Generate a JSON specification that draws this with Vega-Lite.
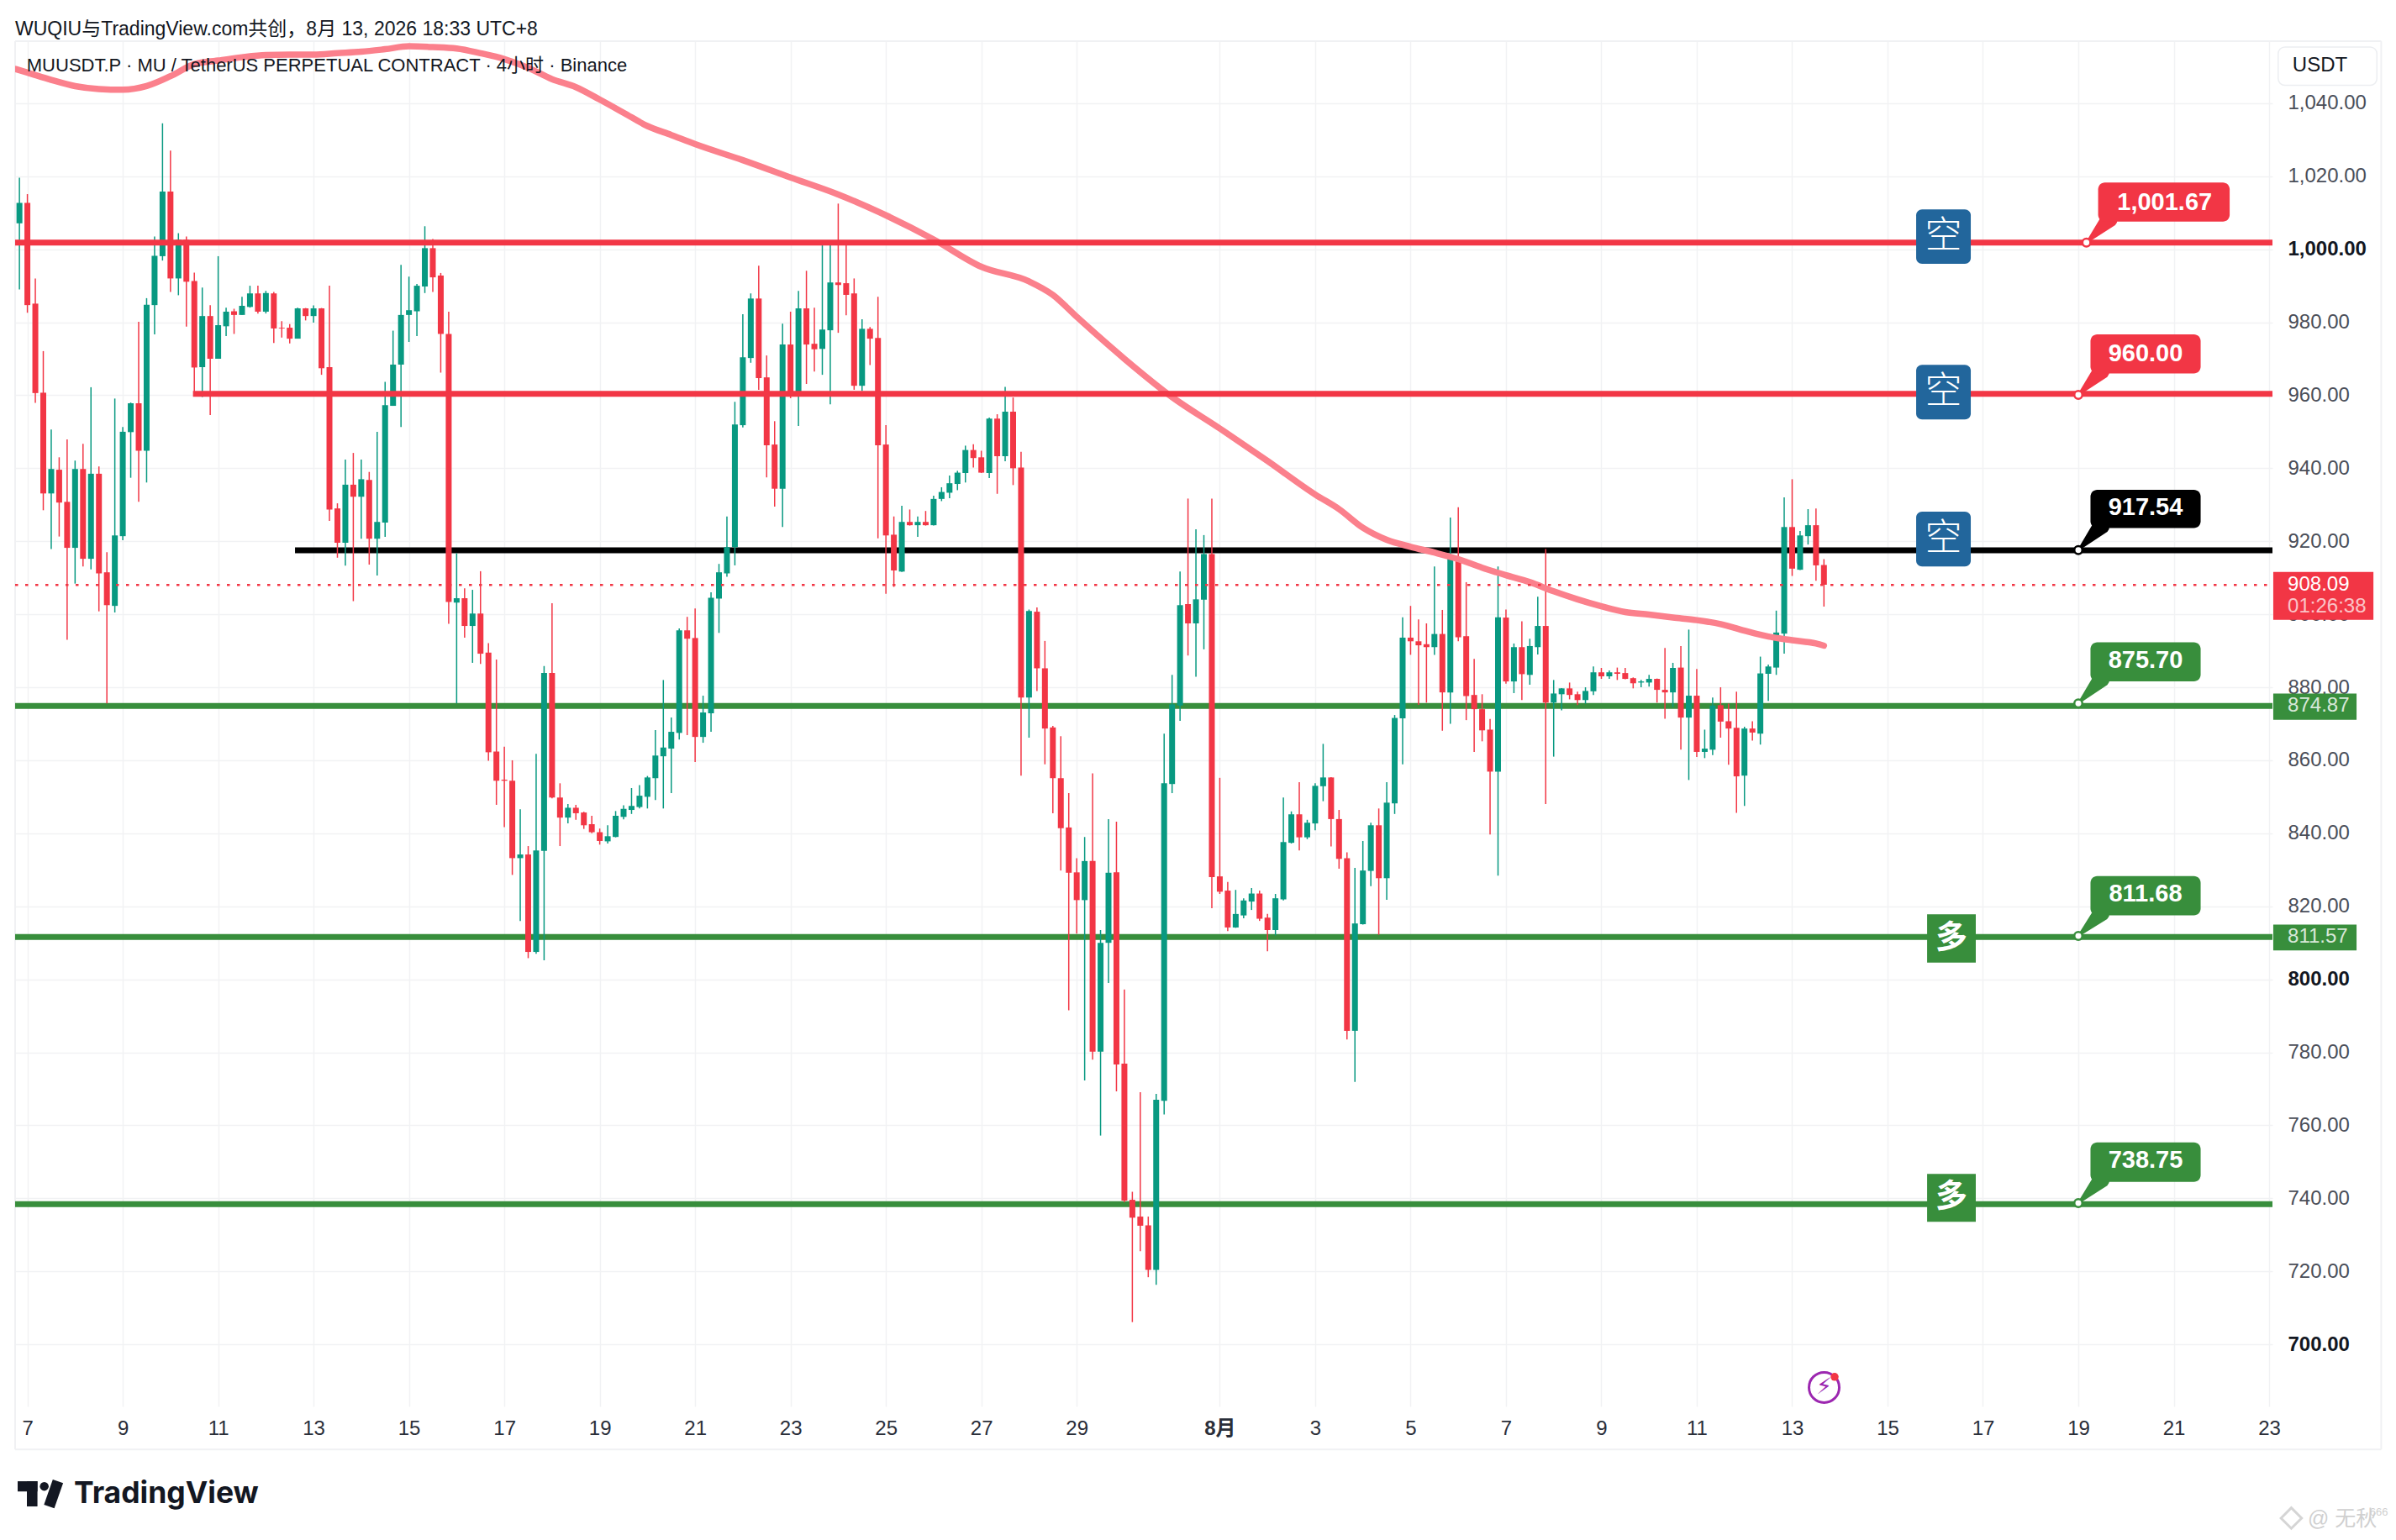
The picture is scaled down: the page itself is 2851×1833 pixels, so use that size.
{"$schema":"https://vega.github.io/schema/vega-lite/v6.json","autosize":{"type":"none"},"padding":{"left":18,"top":49,"right":147,"bottom":159},"width":2686,"height":1625,"background":"#ffffff","view":{"stroke":null},"config":{"font":"Liberation Sans, Noto Sans CJK SC"},
"title":{"text":"WUQIU与TradingView.com共创，8月 13, 2026 18:33 UTC+8","anchor":"start","frame":"group","fontSize":23,"fontWeight":"normal","color":"#131722","offset":1,"font":"Liberation Sans, Noto Sans CJK SC"},
"datasets":{
"candles":[
{"t":"2026-07-06T20:00Z","o":1007.1,"h":1019.6,"l":989,"c":1012.7},{"t":"2026-07-07T00:00Z","o":1012.7,"h":1015.1,"l":982.6,"c":984.7},{"t":"2026-07-07T04:00Z","o":985.1,"h":992,"l":957.9,"c":960.6},{"t":"2026-07-07T08:00Z","o":960.7,"h":972.1,"l":928.5,"c":933.1},{"t":"2026-07-07T12:00Z","o":933.1,"h":950.6,"l":917.9,"c":939.8},{"t":"2026-07-07T16:00Z","o":939.6,"h":943,"l":921.3,"c":930.6},{"t":"2026-07-07T20:00Z","o":930.8,"h":947.9,"l":893,"c":918.2},
{"t":"2026-07-08T00:00Z","o":918.2,"h":942.1,"l":908.4,"c":939.8},{"t":"2026-07-08T04:00Z","o":939.8,"h":946.7,"l":913.1,"c":915.2},{"t":"2026-07-08T08:00Z","o":915.2,"h":962.2,"l":912.3,"c":938.5},{"t":"2026-07-08T12:00Z","o":938.5,"h":940.5,"l":900.8,"c":911.2},{"t":"2026-07-08T16:00Z","o":911.5,"h":917,"l":875.6,"c":902.5},{"t":"2026-07-08T20:00Z","o":902.3,"h":959.1,"l":900.5,"c":921.6},
{"t":"2026-07-09T00:00Z","o":921.4,"h":951.3,"l":920.3,"c":950},{"t":"2026-07-09T04:00Z","o":949.9,"h":958,"l":937.4,"c":957.8},{"t":"2026-07-09T08:00Z","o":957.8,"h":980.1,"l":930.8,"c":944.8},{"t":"2026-07-09T12:00Z","o":944.8,"h":986.6,"l":936.1,"c":984.8},{"t":"2026-07-09T16:00Z","o":984.7,"h":1003.5,"l":976.7,"c":998.2},{"t":"2026-07-09T20:00Z","o":998.1,"h":1034.5,"l":996.9,"c":1015.8},
{"t":"2026-07-10T00:00Z","o":1015.8,"h":1027,"l":988.3,"c":992},{"t":"2026-07-10T04:00Z","o":992,"h":1004.4,"l":987.4,"c":1002.6},{"t":"2026-07-10T08:00Z","o":1002.6,"h":1003.5,"l":978.8,"c":991.1},{"t":"2026-07-10T12:00Z","o":991.3,"h":993.6,"l":960.6,"c":967.6},{"t":"2026-07-10T16:00Z","o":967.7,"h":989.5,"l":959.5,"c":981.7},{"t":"2026-07-10T20:00Z","o":981.7,"h":984.7,"l":954.6,"c":970},
{"t":"2026-07-11T00:00Z","o":970,"h":998.1,"l":970,"c":979.2},{"t":"2026-07-11T04:00Z","o":978.9,"h":984,"l":976.2,"c":982.9},{"t":"2026-07-11T08:00Z","o":983,"h":983.7,"l":976.8,"c":982},{"t":"2026-07-11T12:00Z","o":982,"h":987,"l":982,"c":984.5},{"t":"2026-07-11T16:00Z","o":984.2,"h":990,"l":984,"c":987.9},{"t":"2026-07-11T20:00Z","o":987.9,"h":990,"l":982.4,"c":982.9},
{"t":"2026-07-12T00:00Z","o":982.9,"h":988.6,"l":982.4,"c":988},{"t":"2026-07-12T04:00Z","o":987.9,"h":988.3,"l":974.3,"c":978.3},{"t":"2026-07-12T08:00Z","o":978.5,"h":980.3,"l":975.8,"c":978.3},{"t":"2026-07-12T12:00Z","o":978.5,"h":979.5,"l":974.2,"c":975.5},{"t":"2026-07-12T16:00Z","o":975.5,"h":984,"l":975.5,"c":983.8},{"t":"2026-07-12T20:00Z","o":983.8,"h":983.9,"l":980.5,"c":981.7},
{"t":"2026-07-13T00:00Z","o":981.7,"h":984.6,"l":979.9,"c":983.8},{"t":"2026-07-13T04:00Z","o":983.8,"h":983.9,"l":965.6,"c":967.4},{"t":"2026-07-13T08:00Z","o":967.7,"h":990,"l":925.6,"c":928.7},{"t":"2026-07-13T12:00Z","o":929,"h":930.4,"l":915.5,"c":919.6},{"t":"2026-07-13T16:00Z","o":919.6,"h":942.4,"l":913.3,"c":935.5},{"t":"2026-07-13T20:00Z","o":935.5,"h":944.2,"l":903.6,"c":932.2},
{"t":"2026-07-14T00:00Z","o":932.2,"h":942.4,"l":920.7,"c":937},{"t":"2026-07-14T04:00Z","o":936.8,"h":939,"l":913.6,"c":920.7},{"t":"2026-07-14T08:00Z","o":920.7,"h":950,"l":910.6,"c":925.3},{"t":"2026-07-14T12:00Z","o":925.1,"h":963.7,"l":921.2,"c":957.3},{"t":"2026-07-14T16:00Z","o":957.1,"h":977.7,"l":957.1,"c":968.4},{"t":"2026-07-14T20:00Z","o":968.4,"h":995.7,"l":951.3,"c":982},
{"t":"2026-07-15T00:00Z","o":982,"h":992.5,"l":974.6,"c":983.3},{"t":"2026-07-15T04:00Z","o":983,"h":990.5,"l":976.2,"c":990},{"t":"2026-07-15T08:00Z","o":989.8,"h":1006.3,"l":988,"c":1000.3},{"t":"2026-07-15T12:00Z","o":1000.3,"h":1002.8,"l":988.3,"c":992.3},{"t":"2026-07-15T16:00Z","o":992.8,"h":993.5,"l":966.2,"c":976.8},{"t":"2026-07-15T20:00Z","o":976.8,"h":982.9,"l":897.4,"c":903.4},
{"t":"2026-07-16T00:00Z","o":903.2,"h":916.7,"l":875.6,"c":904.4},{"t":"2026-07-16T04:00Z","o":904.4,"h":907.1,"l":893.6,"c":896.8},{"t":"2026-07-16T08:00Z","o":896.8,"h":906.7,"l":886.7,"c":900.2},{"t":"2026-07-16T12:00Z","o":900.2,"h":911.8,"l":886.4,"c":889.2},{"t":"2026-07-16T16:00Z","o":889.5,"h":892.1,"l":859.9,"c":862.2},{"t":"2026-07-16T20:00Z","o":862.4,"h":887.6,"l":847.8,"c":854.4},
{"t":"2026-07-17T00:00Z","o":854.7,"h":863.7,"l":841.7,"c":854.4},{"t":"2026-07-17T04:00Z","o":854.4,"h":860,"l":828.6,"c":833.2},{"t":"2026-07-17T08:00Z","o":833.2,"h":846.6,"l":816,"c":834.2},{"t":"2026-07-17T12:00Z","o":834.2,"h":836.5,"l":805.8,"c":807.5},{"t":"2026-07-17T16:00Z","o":807.5,"h":861.8,"l":807,"c":835.3},{"t":"2026-07-17T20:00Z","o":835.2,"h":885.8,"l":805.2,"c":883.9},
{"t":"2026-07-18T00:00Z","o":883.9,"h":903,"l":849.6,"c":849.8},{"t":"2026-07-18T04:00Z","o":849.8,"h":853.7,"l":836.5,"c":844.3},{"t":"2026-07-18T08:00Z","o":844.3,"h":848,"l":842.7,"c":847},{"t":"2026-07-18T12:00Z","o":847,"h":847.8,"l":843.7,"c":845.5},{"t":"2026-07-18T16:00Z","o":845.7,"h":845.9,"l":841.2,"c":842.2},{"t":"2026-07-18T20:00Z","o":842.5,"h":844.8,"l":840,"c":840.3},
{"t":"2026-07-19T00:00Z","o":840.3,"h":841.3,"l":836.9,"c":837.9},{"t":"2026-07-19T04:00Z","o":837.8,"h":842.2,"l":837.2,"c":839.2},{"t":"2026-07-19T08:00Z","o":839,"h":846.1,"l":838.9,"c":844.8},{"t":"2026-07-19T12:00Z","o":844.5,"h":847.7,"l":843.8,"c":846.7},{"t":"2026-07-19T16:00Z","o":846.4,"h":852.4,"l":845.3,"c":847.5},{"t":"2026-07-19T20:00Z","o":847.2,"h":853.2,"l":846.8,"c":850.3},
{"t":"2026-07-20T00:00Z","o":850,"h":855.7,"l":846.8,"c":855.3},{"t":"2026-07-20T04:00Z","o":855.1,"h":868.3,"l":849.1,"c":861.3},{"t":"2026-07-20T08:00Z","o":861.1,"h":882,"l":846.8,"c":863.5},{"t":"2026-07-20T12:00Z","o":863.2,"h":871.7,"l":851,"c":867.8},{"t":"2026-07-20T16:00Z","o":867.5,"h":896.1,"l":865.7,"c":895.6},{"t":"2026-07-20T20:00Z","o":895.6,"h":899.3,"l":866.9,"c":893.3},
{"t":"2026-07-21T00:00Z","o":893.5,"h":901.6,"l":859.5,"c":866.4},{"t":"2026-07-21T04:00Z","o":866.4,"h":877.7,"l":864.8,"c":873.1},{"t":"2026-07-21T08:00Z","o":872.9,"h":906,"l":867.8,"c":904.5},{"t":"2026-07-21T12:00Z","o":904.3,"h":913.8,"l":894.9,"c":911.5},{"t":"2026-07-21T16:00Z","o":911.2,"h":926.8,"l":910.3,"c":918.4},{"t":"2026-07-21T20:00Z","o":918.4,"h":958.2,"l":913.4,"c":952},
{"t":"2026-07-22T00:00Z","o":951.8,"h":982.2,"l":951.2,"c":970.4},{"t":"2026-07-22T04:00Z","o":970.2,"h":987.9,"l":968.9,"c":986.5},{"t":"2026-07-22T08:00Z","o":986.5,"h":995.5,"l":961.5,"c":964.7},{"t":"2026-07-22T12:00Z","o":964.9,"h":970.9,"l":937.5,"c":946.3},{"t":"2026-07-22T16:00Z","o":946.5,"h":952.9,"l":929.5,"c":934.4},{"t":"2026-07-22T20:00Z","o":934.4,"h":979.6,"l":923.9,"c":973.9},
{"t":"2026-07-23T00:00Z","o":973.9,"h":982.9,"l":959.2,"c":959.8},{"t":"2026-07-23T04:00Z","o":961,"h":988.6,"l":951.6,"c":983.8},{"t":"2026-07-23T08:00Z","o":983.8,"h":994.1,"l":963.1,"c":973.9},{"t":"2026-07-23T12:00Z","o":974.1,"h":984,"l":966.5,"c":972.6},{"t":"2026-07-23T16:00Z","o":972.7,"h":1002.3,"l":965.6,"c":978},{"t":"2026-07-23T20:00Z","o":977.8,"h":1002,"l":957.5,"c":990.9},
{"t":"2026-07-24T00:00Z","o":990.9,"h":1012.5,"l":977.1,"c":990.2},{"t":"2026-07-24T04:00Z","o":990.7,"h":1001.5,"l":981.9,"c":987.5},{"t":"2026-07-24T08:00Z","o":987.9,"h":992,"l":961.5,"c":962.6},{"t":"2026-07-24T12:00Z","o":962.6,"h":980.8,"l":961.2,"c":978.2},{"t":"2026-07-24T16:00Z","o":978.2,"h":978.7,"l":968.3,"c":975.5},{"t":"2026-07-24T20:00Z","o":975.7,"h":987,"l":920.8,"c":946.3},
{"t":"2026-07-25T00:00Z","o":946.5,"h":951.8,"l":905.6,"c":921.6},{"t":"2026-07-25T04:00Z","o":921.8,"h":926.8,"l":907.5,"c":912},{"t":"2026-07-25T08:00Z","o":911.7,"h":929.7,"l":911.6,"c":925.3},{"t":"2026-07-25T12:00Z","o":925.3,"h":928.7,"l":924.3,"c":924.4},{"t":"2026-07-25T16:00Z","o":924.4,"h":926.8,"l":921.2,"c":925.3},{"t":"2026-07-25T20:00Z","o":925.3,"h":928.3,"l":924.3,"c":924.4},
{"t":"2026-07-26T00:00Z","o":924.4,"h":932.5,"l":924.3,"c":931.6},{"t":"2026-07-26T04:00Z","o":931.6,"h":934.8,"l":931,"c":933.5},{"t":"2026-07-26T08:00Z","o":933.3,"h":938,"l":931.8,"c":935.9},{"t":"2026-07-26T12:00Z","o":935.7,"h":939.3,"l":934,"c":938.8},{"t":"2026-07-26T16:00Z","o":938.7,"h":946.2,"l":936.1,"c":945},{"t":"2026-07-26T20:00Z","o":945,"h":946.6,"l":940.2,"c":942.8},
{"t":"2026-07-27T00:00Z","o":943,"h":944.8,"l":938.7,"c":938.8},{"t":"2026-07-27T04:00Z","o":938.7,"h":953.9,"l":937.3,"c":953.6},{"t":"2026-07-27T08:00Z","o":953.6,"h":954.8,"l":933,"c":943.3},{"t":"2026-07-27T12:00Z","o":943.3,"h":962.3,"l":941.9,"c":955.5},{"t":"2026-07-27T16:00Z","o":955.5,"h":959.4,"l":935.4,"c":940},{"t":"2026-07-27T20:00Z","o":940.2,"h":944.5,"l":855.8,"c":877.2},
{"t":"2026-07-28T00:00Z","o":877.2,"h":901.3,"l":866.2,"c":900.9},{"t":"2026-07-28T04:00Z","o":900.7,"h":901.9,"l":879,"c":885.2},{"t":"2026-07-28T08:00Z","o":885.2,"h":892.7,"l":858.9,"c":868.7},{"t":"2026-07-28T12:00Z","o":869,"h":869.4,"l":845.5,"c":855.1},{"t":"2026-07-28T16:00Z","o":855.1,"h":866.6,"l":829.8,"c":841.4},{"t":"2026-07-28T20:00Z","o":841.6,"h":851,"l":791.5,"c":829.2},
{"t":"2026-07-29T00:00Z","o":829.3,"h":833.2,"l":812.5,"c":821.7},{"t":"2026-07-29T04:00Z","o":821.7,"h":839,"l":772.3,"c":832.4},{"t":"2026-07-29T08:00Z","o":832.4,"h":856.4,"l":778,"c":780.2},{"t":"2026-07-29T12:00Z","o":780.2,"h":813.5,"l":757.2,"c":810},{"t":"2026-07-29T16:00Z","o":810,"h":843.9,"l":799,"c":829.2},{"t":"2026-07-29T20:00Z","o":829.3,"h":843.2,"l":769.3,"c":776.7},
{"t":"2026-07-30T00:00Z","o":776.9,"h":797.2,"l":738.9,"c":739.4},{"t":"2026-07-30T04:00Z","o":739.6,"h":741.8,"l":706.1,"c":734.7},{"t":"2026-07-30T08:00Z","o":735,"h":769.1,"l":725.5,"c":732.5},{"t":"2026-07-30T12:00Z","o":732.6,"h":735,"l":718.4,"c":720.4},{"t":"2026-07-30T16:00Z","o":720.4,"h":768.6,"l":716.3,"c":767},{"t":"2026-07-30T20:00Z","o":766.7,"h":867.3,"l":763,"c":853.7},
{"t":"2026-07-31T00:00Z","o":853.5,"h":883.4,"l":851,"c":875.3},{"t":"2026-07-31T04:00Z","o":875,"h":911.7,"l":870.8,"c":902.5},{"t":"2026-07-31T08:00Z","o":902.8,"h":931.7,"l":888.7,"c":897.5},{"t":"2026-07-31T12:00Z","o":897.5,"h":923.3,"l":882.9,"c":904.1},{"t":"2026-07-31T16:00Z","o":904,"h":921.7,"l":890.4,"c":916.5},{"t":"2026-07-31T20:00Z","o":916.5,"h":931.7,"l":819.5,"c":828},
{"t":"2026-08-01T00:00Z","o":828.2,"h":855.2,"l":823.4,"c":824},{"t":"2026-08-01T04:00Z","o":824.3,"h":826.7,"l":813.2,"c":814.2},{"t":"2026-08-01T08:00Z","o":814.2,"h":824.5,"l":814.1,"c":817.9},{"t":"2026-08-01T12:00Z","o":817.5,"h":822.2,"l":816.7,"c":821.6},{"t":"2026-08-01T16:00Z","o":821.3,"h":825,"l":819,"c":823.5},{"t":"2026-08-01T20:00Z","o":823.5,"h":824.3,"l":816,"c":816.6},
{"t":"2026-08-02T00:00Z","o":816.9,"h":817.9,"l":807.7,"c":813.5},{"t":"2026-08-02T04:00Z","o":813.5,"h":823.4,"l":812,"c":822.2},{"t":"2026-08-02T08:00Z","o":821.9,"h":849.8,"l":821.6,"c":837.6},{"t":"2026-08-02T12:00Z","o":837.4,"h":846,"l":837.2,"c":845.2},{"t":"2026-08-02T16:00Z","o":845.2,"h":854,"l":835.3,"c":838.9},{"t":"2026-08-02T20:00Z","o":838.9,"h":843.7,"l":838.4,"c":842.9},
{"t":"2026-08-03T00:00Z","o":842.7,"h":853.7,"l":840.8,"c":853},{"t":"2026-08-03T04:00Z","o":852.9,"h":864.5,"l":848.8,"c":855.3},{"t":"2026-08-03T08:00Z","o":855.3,"h":855.4,"l":836.4,"c":843.9},{"t":"2026-08-03T12:00Z","o":843.9,"h":846.4,"l":830.3,"c":833},{"t":"2026-08-03T16:00Z","o":833.2,"h":834.8,"l":783.5,"c":785.9},{"t":"2026-08-03T20:00Z","o":785.9,"h":830.5,"l":771.9,"c":815.3},
{"t":"2026-08-04T00:00Z","o":815.1,"h":837.9,"l":815,"c":829.8},{"t":"2026-08-04T04:00Z","o":829.7,"h":842.9,"l":825.5,"c":842.2},{"t":"2026-08-04T08:00Z","o":842.2,"h":846.8,"l":812.2,"c":827.7},{"t":"2026-08-04T12:00Z","o":827.7,"h":854,"l":821.8,"c":848.4},{"t":"2026-08-04T16:00Z","o":848.2,"h":872.4,"l":845.3,"c":871.6},{"t":"2026-08-04T20:00Z","o":871.5,"h":899.2,"l":858.9,"c":893.6},
{"t":"2026-08-05T00:00Z","o":893.6,"h":902.3,"l":888.9,"c":892.6},{"t":"2026-08-05T04:00Z","o":892.6,"h":898.6,"l":875.2,"c":891.5},{"t":"2026-08-05T08:00Z","o":891.8,"h":897.5,"l":875.8,"c":891},{"t":"2026-08-05T12:00Z","o":891,"h":913.1,"l":888.9,"c":894.6},{"t":"2026-08-05T16:00Z","o":894.6,"h":901.2,"l":868.1,"c":878.6},{"t":"2026-08-05T20:00Z","o":878.6,"h":926.5,"l":870,"c":915.2},
{"t":"2026-08-06T00:00Z","o":915.2,"h":929.3,"l":892.6,"c":893.7},{"t":"2026-08-06T04:00Z","o":894,"h":908.8,"l":871,"c":877.6},{"t":"2026-08-06T08:00Z","o":877.9,"h":887.8,"l":862.3,"c":874},{"t":"2026-08-06T12:00Z","o":874,"h":878.1,"l":865.2,"c":868.2},{"t":"2026-08-06T16:00Z","o":868.4,"h":871.3,"l":839.7,"c":856.9},{"t":"2026-08-06T20:00Z","o":856.9,"h":913.1,"l":828.4,"c":899.2},
{"t":"2026-08-07T00:00Z","o":899.1,"h":901.3,"l":881,"c":881.6},{"t":"2026-08-07T04:00Z","o":881.6,"h":892,"l":878.4,"c":891},{"t":"2026-08-07T08:00Z","o":891,"h":898.1,"l":876.5,"c":883.6},{"t":"2026-08-07T12:00Z","o":883.4,"h":893.3,"l":880.7,"c":891.3},{"t":"2026-08-07T16:00Z","o":891,"h":904.8,"l":889,"c":896.8},{"t":"2026-08-07T20:00Z","o":896.8,"h":917.9,"l":848,"c":875.8},
{"t":"2026-08-08T00:00Z","o":875.8,"h":882,"l":861,"c":878.3},{"t":"2026-08-08T04:00Z","o":878.1,"h":879.8,"l":873.7,"c":879.7},{"t":"2026-08-08T08:00Z","o":879.7,"h":881.3,"l":876.7,"c":877.9},{"t":"2026-08-08T12:00Z","o":878.1,"h":878.8,"l":875.1,"c":876.5},{"t":"2026-08-08T16:00Z","o":876.5,"h":880,"l":875.5,"c":879},{"t":"2026-08-08T20:00Z","o":878.9,"h":885.7,"l":877.9,"c":884.1},
{"t":"2026-08-09T00:00Z","o":884.1,"h":885.3,"l":882.3,"c":883},{"t":"2026-08-09T04:00Z","o":883,"h":884.6,"l":882.3,"c":884.1},{"t":"2026-08-09T08:00Z","o":884.1,"h":885.4,"l":882,"c":883.7},{"t":"2026-08-09T12:00Z","o":883.9,"h":885.3,"l":882.2,"c":882.3},{"t":"2026-08-09T16:00Z","o":882.5,"h":882.7,"l":879.7,"c":881.1},{"t":"2026-08-09T20:00Z","o":881.3,"h":882,"l":880,"c":881.6},
{"t":"2026-08-10T00:00Z","o":881.3,"h":883.4,"l":880.2,"c":882.3},{"t":"2026-08-10T04:00Z","o":882.3,"h":882.4,"l":875.8,"c":879.3},{"t":"2026-08-10T08:00Z","o":879.3,"h":890.8,"l":871.4,"c":878.6},{"t":"2026-08-10T12:00Z","o":878.6,"h":886.7,"l":874.6,"c":885.3},{"t":"2026-08-10T16:00Z","o":885.4,"h":891.3,"l":862.9,"c":871.7},{"t":"2026-08-10T20:00Z","o":871.7,"h":895.8,"l":854.6,"c":877.7},
{"t":"2026-08-11T00:00Z","o":877.7,"h":885,"l":860.9,"c":862.3},{"t":"2026-08-11T04:00Z","o":862.3,"h":868.4,"l":860.6,"c":863.2},{"t":"2026-08-11T08:00Z","o":862.9,"h":877.2,"l":861.4,"c":875},{"t":"2026-08-11T12:00Z","o":875.1,"h":880,"l":866.2,"c":870.6},{"t":"2026-08-11T16:00Z","o":870.7,"h":875.5,"l":858.8,"c":868.7},{"t":"2026-08-11T20:00Z","o":868.9,"h":878.8,"l":845.6,"c":855.6},
{"t":"2026-08-12T00:00Z","o":855.8,"h":869.2,"l":847.5,"c":868.7},{"t":"2026-08-12T04:00Z","o":868.7,"h":870.7,"l":865.4,"c":867.6},{"t":"2026-08-12T08:00Z","o":867.3,"h":888.4,"l":864.3,"c":883.8},{"t":"2026-08-12T12:00Z","o":883.7,"h":886.2,"l":876.3,"c":885.7},{"t":"2026-08-12T16:00Z","o":885.4,"h":901,"l":883.4,"c":895},{"t":"2026-08-12T20:00Z","o":894.7,"h":932,"l":889.2,"c":923.9},
{"t":"2026-08-13T00:00Z","o":923.9,"h":937,"l":910.5,"c":912.5},{"t":"2026-08-13T04:00Z","o":912.2,"h":922.8,"l":912.1,"c":921.6},{"t":"2026-08-13T08:00Z","o":921.4,"h":928.8,"l":919.1,"c":924.4},{"t":"2026-08-13T12:00Z","o":924.4,"h":929,"l":909.2,"c":913.4},{"t":"2026-08-13T16:00Z","o":913.5,"h":915.1,"l":902.1,"c":908.09}
],
"ma":[
{"t":"2026-07-06T17:50Z","v":1049.4},{"t":"2026-07-07T00:00Z","v":1048.4},{"t":"2026-07-07T12:00Z","v":1046.4},{"t":"2026-07-08T00:00Z","v":1044.7},{"t":"2026-07-08T12:00Z","v":1043.9},{"t":"2026-07-09T00:00Z","v":1043.7},{"t":"2026-07-09T12:00Z","v":1044.7},{"t":"2026-07-10T00:00Z","v":1047.4},{"t":"2026-07-10T12:00Z","v":1050.7},{"t":"2026-07-11T00:00Z","v":1051.7},{"t":"2026-07-11T12:00Z","v":1052.6},{"t":"2026-07-12T00:00Z","v":1053.2},{"t":"2026-07-12T12:00Z","v":1053.3},{"t":"2026-07-13T00:00Z","v":1053.3},{"t":"2026-07-13T12:00Z","v":1053.7},{"t":"2026-07-14T00:00Z","v":1054.1},{"t":"2026-07-14T12:00Z","v":1054.8},{"t":"2026-07-15T00:00Z","v":1055.6},{"t":"2026-07-15T12:00Z","v":1055.4},{"t":"2026-07-16T00:00Z","v":1055},{"t":"2026-07-16T12:00Z","v":1053.7},{"t":"2026-07-17T00:00Z","v":1052.1},{"t":"2026-07-17T12:00Z","v":1049.7},{"t":"2026-07-18T00:00Z","v":1046.6},{"t":"2026-07-18T12:00Z","v":1044.4},{"t":"2026-07-19T00:00Z","v":1041},{"t":"2026-07-19T12:00Z","v":1037.4},{"t":"2026-07-20T00:00Z","v":1033.75},{"t":"2026-07-20T12:00Z","v":1031.3},{"t":"2026-07-21T00:00Z","v":1028.8},{"t":"2026-07-22T00:00Z","v":1024.4},{"t":"2026-07-23T00:00Z","v":1019.66},{"t":"2026-07-24T00:00Z","v":1015},{"t":"2026-07-25T00:00Z","v":1009.3},{"t":"2026-07-26T00:00Z","v":1002.7},{"t":"2026-07-27T00:00Z","v":995.2},{"t":"2026-07-28T00:00Z","v":991.2},{"t":"2026-07-28T12:00Z","v":987.5},{"t":"2026-07-29T00:00Z","v":981.5},{"t":"2026-07-30T00:00Z","v":970},{"t":"2026-07-31T00:00Z","v":959.5},{"t":"2026-08-01T00:00Z","v":950.9},{"t":"2026-08-02T00:00Z","v":942},{"t":"2026-08-03T00:00Z","v":932.8},{"t":"2026-08-03T12:00Z","v":928.8},{"t":"2026-08-04T00:00Z","v":923.7},{"t":"2026-08-04T12:00Z","v":920.4},{"t":"2026-08-05T00:00Z","v":918.5},{"t":"2026-08-05T12:00Z","v":916.9},{"t":"2026-08-06T00:00Z","v":915.1},{"t":"2026-08-06T12:00Z","v":912.75},{"t":"2026-08-07T00:00Z","v":910.7},{"t":"2026-08-07T12:00Z","v":908.8},{"t":"2026-08-08T00:00Z","v":906.3},{"t":"2026-08-08T12:00Z","v":904.1},{"t":"2026-08-09T00:00Z","v":902.2},{"t":"2026-08-09T12:00Z","v":900.6},{"t":"2026-08-10T00:00Z","v":899.9},{"t":"2026-08-10T12:00Z","v":899.1},{"t":"2026-08-11T00:00Z","v":898.4},{"t":"2026-08-11T12:00Z","v":897.3},{"t":"2026-08-12T00:00Z","v":895.5},{"t":"2026-08-12T12:00Z","v":893.9},{"t":"2026-08-13T00:00Z","v":892.9},{"t":"2026-08-13T12:00Z","v":892},{"t":"2026-08-13T16:00Z","v":891.4}
],
"levels":[
{"a":"2026-07-06T17:50Z","b":"2026-08-23T01:41Z","p":1001.8,"tone":"red"},{"a":"2026-07-10T11:20Z","b":"2026-08-23T01:41Z","p":960.4,"tone":"red"},{"a":"2026-07-12T14:40Z","b":"2026-08-23T01:41Z","p":917.5,"tone":"black"},{"a":"2026-07-06T17:50Z","b":"2026-08-23T01:41Z","p":874.9,"tone":"green"},{"a":"2026-07-06T17:50Z","b":"2026-08-23T01:41Z","p":811.57,"tone":"green"},{"a":"2026-07-06T17:50Z","b":"2026-08-23T01:41Z","p":738.4,"tone":"green"}
],
"tags":[
{"label":"1,001.67","tone":"red","x1":"2026-08-19T09:58Z","x2":"2026-08-22T04:09Z","y1":1018.3,"y2":1007.6,"tx":"2026-08-20T19:26Z","ty":1012.8,"ax":"2026-08-19T04:04Z","ay":1001.8},
{"label":"960.00","tone":"red","x1":"2026-08-19T06:07Z","x2":"2026-08-21T13:33Z","y1":976.7,"y2":966,"tx":"2026-08-20T09:50Z","ty":971.3,"ax":"2026-08-19T00:00Z","ay":960.1},
{"label":"917.54","tone":"black","x1":"2026-08-19T06:07Z","x2":"2026-08-21T13:33Z","y1":934.1,"y2":923.6,"tx":"2026-08-20T09:50Z","ty":929.2,"ax":"2026-08-19T00:00Z","ay":917.6},
{"label":"875.70","tone":"green","x1":"2026-08-19T06:07Z","x2":"2026-08-21T13:33Z","y1":892.3,"y2":881.6,"tx":"2026-08-20T09:50Z","ty":887.4,"ax":"2026-08-19T00:00Z","ay":875.6},
{"label":"811.68","tone":"green","x1":"2026-08-19T06:07Z","x2":"2026-08-21T13:33Z","y1":828.3,"y2":817.5,"tx":"2026-08-20T09:50Z","ty":823.4,"ax":"2026-08-19T00:00Z","ay":811.9},
{"label":"738.75","tone":"green","x1":"2026-08-19T06:07Z","x2":"2026-08-21T13:33Z","y1":755.3,"y2":744.5,"tx":"2026-08-20T09:50Z","ty":750.4,"ax":"2026-08-19T00:00Z","ay":738.7}
],
"pointers":[
{"id":"a","tone":"red","x":"2026-08-19T04:04Z","y":1001.8,"w":0},{"id":"a","tone":"red","x":"2026-08-19T15:30Z","y":1008.2,"w":1},
{"id":"b","tone":"red","x":"2026-08-19T00:00Z","y":960.1,"w":0},{"id":"b","tone":"red","x":"2026-08-19T11:30Z","y":966.6,"w":1},
{"id":"c","tone":"black","x":"2026-08-19T00:00Z","y":917.6,"w":0},{"id":"c","tone":"black","x":"2026-08-19T11:30Z","y":924.2,"w":1},
{"id":"d","tone":"green","x":"2026-08-19T00:00Z","y":875.6,"w":0},{"id":"d","tone":"green","x":"2026-08-19T11:30Z","y":882.2,"w":1},
{"id":"e","tone":"green","x":"2026-08-19T00:00Z","y":811.9,"w":0},{"id":"e","tone":"green","x":"2026-08-19T11:30Z","y":818.1,"w":1},
{"id":"f","tone":"green","x":"2026-08-19T00:00Z","y":738.7,"w":0},{"id":"f","tone":"green","x":"2026-08-19T11:30Z","y":745.1,"w":1}
],
"badges":[
{"label":"空","tone":"blue","x1":"2026-08-15T14:24Z","x2":"2026-08-16T17:53Z","tx":"2026-08-16T04:05Z","y1":1010.9,"y2":996,"ty":1003.4},
{"label":"空","tone":"blue","x1":"2026-08-15T14:24Z","x2":"2026-08-16T17:53Z","tx":"2026-08-16T04:05Z","y1":968.35,"y2":953.4,"ty":960.9},
{"label":"空","tone":"blue","x1":"2026-08-15T14:24Z","x2":"2026-08-16T17:53Z","tx":"2026-08-16T04:05Z","y1":928.1,"y2":913.1,"ty":920.6}
],
"badges2":[
{"label":"多","tone":"green","x1":"2026-08-15T19:55Z","x2":"2026-08-16T20:24Z","tx":"2026-08-16T08:10Z","y1":817.8,"y2":804.6,"ty":811.2},
{"label":"多","tone":"green","x1":"2026-08-15T19:55Z","x2":"2026-08-16T20:24Z","tx":"2026-08-16T08:10Z","y1":746.7,"y2":733.6,"ty":740.2}
],
"boxes":[
{"tone":"red","x1":"2026-08-23T02:05Z","x2":"2026-08-25T04:29Z","y1":911.6,"y2":898.5},
{"tone":"green","x1":"2026-08-23T02:05Z","x2":"2026-08-24T20:00Z","y1":878.3,"y2":871.1},
{"tone":"green","x1":"2026-08-23T02:05Z","x2":"2026-08-24T20:00Z","y1":815,"y2":807.9}
],
"boxText":[
{"label":"908.09","x":"2026-08-23T09:20Z","y":908.05,"o":1},{"label":"01:26:38","x":"2026-08-23T09:20Z","y":902.2,"o":0.7},{"label":"874.87","x":"2026-08-23T09:20Z","y":875,"o":0.8},{"label":"811.57","x":"2026-08-23T09:20Z","y":811.6,"o":0.8}
],
"frame":[
{"x1":"2026-07-06T17:50Z","x2":"2026-08-25T08:24Z","y1":1057,"y2":1057},{"x1":"2026-07-06T17:50Z","x2":"2026-08-25T08:24Z","y1":671.2,"y2":671.2},{"x1":"2026-07-06T17:50Z","x2":"2026-07-06T17:50Z","y1":1057,"y2":671.2},{"x1":"2026-08-25T08:24Z","x2":"2026-08-25T08:24Z","y1":1057,"y2":671.2}
],
"pill":[{"x1":"2026-08-23T04:33Z","x2":"2026-08-25T06:14Z","y1":1055.4,"y2":1044.9}],
"logoRect":[{"x1":"2026-07-06T19:06Z","x2":"2026-07-07T05:04Z","y1":662.5,"y2":659.7},{"x1":"2026-07-06T23:45Z","x2":"2026-07-07T05:04Z","y1":662.5,"y2":655.6}],
"logoDot":[{"x":"2026-07-07T08:30Z","y":661.1}],
"logoBar":[{"x1":"2026-07-07T15:23Z","x2":"2026-07-07T10:57Z","y1":662.5,"y2":655.6}],
"bolt":[{"x":"2026-08-13T16:05Z","y":688.2}],
"boltDot":[{"x":"2026-08-13T21:22Z","y":691.1}],
"mark":[{"x":"2026-08-23T11:10Z","y":652.4}]
},
"layer":[
{"data":{"name":"frame"},"mark":{"type":"rule","color":"#f0f1f3","strokeWidth":2},"encoding":{"x":{"field":"x1","type":"temporal","title":null,"scale":{"type":"utc","padding":0,"domain":["2026-07-06T17:50:00Z","2026-08-23T01:41:00Z"]},"axis":{"orient":"bottom","title":null,"domain":false,"ticks":false,"grid":true,"gridColor":"#f1f2f4","gridWidth":1.5,"labelFontSize":24,"labelColor":"#2a2e39","labelPadding":14,"labelOverlap":false,"labelFlush":false,"labelBound":false,"labelExpr":"utcmonth(datum.value)==7 && utcdate(datum.value)==1 ? '8月' : utcdate(datum.value)+''","labelFontWeight":{"condition":{"test":"utcmonth(datum.value)==7 && utcdate(datum.value)==1","value":"bold"},"value":"normal"},
"values":[{"year":2026,"month":7,"date":7,"utc":true},{"year":2026,"month":7,"date":9,"utc":true},{"year":2026,"month":7,"date":11,"utc":true},{"year":2026,"month":7,"date":13,"utc":true},{"year":2026,"month":7,"date":15,"utc":true},{"year":2026,"month":7,"date":17,"utc":true},{"year":2026,"month":7,"date":19,"utc":true},{"year":2026,"month":7,"date":21,"utc":true},{"year":2026,"month":7,"date":23,"utc":true},{"year":2026,"month":7,"date":25,"utc":true},{"year":2026,"month":7,"date":27,"utc":true},{"year":2026,"month":7,"date":29,"utc":true},{"year":2026,"month":8,"date":1,"utc":true},{"year":2026,"month":8,"date":3,"utc":true},{"year":2026,"month":8,"date":5,"utc":true},{"year":2026,"month":8,"date":7,"utc":true},{"year":2026,"month":8,"date":9,"utc":true},{"year":2026,"month":8,"date":11,"utc":true},{"year":2026,"month":8,"date":13,"utc":true},{"year":2026,"month":8,"date":15,"utc":true},{"year":2026,"month":8,"date":17,"utc":true},{"year":2026,"month":8,"date":19,"utc":true},{"year":2026,"month":8,"date":21,"utc":true},{"year":2026,"month":8,"date":23,"utc":true}]}},"x2":{"field":"x2"},"y":{"field":"y1","type":"quantitative","title":null,"scale":{"domain":[683,1057],"nice":false,"zero":false},"axis":{"orient":"right","title":null,"domain":false,"ticks":false,"grid":true,"gridColor":"#f1f2f4","gridWidth":1.5,"labelFontSize":24,"labelAlign":"left","labelPadding":18,"labelOverlap":false,"labelBound":false,"labelFlush":false,"format":",.2f","labelColor":{"condition":{"test":"datum.value==1000||datum.value==800||datum.value==700","value":"#131722"},"value":"#4a4e59"},"labelFontWeight":{"condition":{"test":"datum.value==1000||datum.value==800||datum.value==700","value":"bold"},"value":"normal"},"values":[700,720,740,760,780,800,820,840,860,880,900,920,940,960,980,1000,1020,1040]}},"y2":{"field":"y2"}}},
{"data":{"name":"levels"},"transform":[{"filter":"datum.tone!='red'"}],"mark":{"type":"rule","strokeWidth":7},"encoding":{"x":{"field":"a","type":"temporal"},"x2":{"field":"b"},"y":{"field":"p","type":"quantitative"},"color":{"field":"tone","type":"nominal","legend":null,"scale":{"domain":["red","black","green","blue"],"range":["#f23645","#000000","#388e3c","#22669c"]}}}},
{"data":{"name":"candles"},"mark":{"type":"rule","strokeWidth":1.5},"encoding":{"x":{"field":"t","type":"temporal"},"y":{"field":"l","type":"quantitative"},"y2":{"field":"h"},"color":{"condition":{"test":"datum.c >= datum.o","value":"#089981"},"value":"#f23645"}}},
{"data":{"name":"candles"},"mark":{"type":"bar","size":7},"encoding":{"x":{"field":"t","type":"temporal"},"y":{"field":"o","type":"quantitative"},"y2":{"field":"c"},"color":{"condition":{"test":"datum.c >= datum.o","value":"#089981"},"value":"#f23645"}}},
{"data":{"name":"ma"},"mark":{"type":"line","color":"#fb808c","strokeWidth":7.5,"strokeCap":"round","interpolate":"monotone","clip":true},"encoding":{"x":{"field":"t","type":"temporal"},"y":{"field":"v","type":"quantitative"}}},
{"data":{"name":"levels"},"transform":[{"filter":"datum.tone=='red'"}],"mark":{"type":"rule","strokeWidth":7},"encoding":{"x":{"field":"a","type":"temporal"},"x2":{"field":"b"},"y":{"field":"p","type":"quantitative"},"color":{"field":"tone","type":"nominal","legend":null}}},
{"data":{"values":[{"x":"2026-07-06T17:50Z","x2":"2026-08-23T01:41Z","y":908.05}]},"mark":{"type":"rule","color":"#f23645","strokeWidth":2.6,"strokeDash":[3.5,8.5]},"encoding":{"x":{"field":"x","type":"temporal"},"x2":{"field":"x2"},"y":{"field":"y","type":"quantitative"}}},
{"data":{"name":"badges"},"mark":{"type":"rect","cornerRadius":7},"encoding":{"x":{"field":"x1","type":"temporal"},"x2":{"field":"x2"},"y":{"field":"y1","type":"quantitative"},"y2":{"field":"y2"},"color":{"field":"tone","type":"nominal","legend":null}}},
{"data":{"name":"badges"},"mark":{"type":"text","color":"#ffffff","fontSize":44,"font":"Noto Sans CJK SC","fontWeight":300},"encoding":{"x":{"field":"tx","type":"temporal"},"y":{"field":"ty","type":"quantitative"},"text":{"field":"label"}}},
{"data":{"name":"badges2"},"mark":{"type":"rect"},"encoding":{"x":{"field":"x1","type":"temporal"},"x2":{"field":"x2"},"y":{"field":"y1","type":"quantitative"},"y2":{"field":"y2"},"color":{"field":"tone","type":"nominal","legend":null}}},
{"data":{"name":"badges2"},"mark":{"type":"text","color":"#ffffff","fontSize":38,"font":"Noto Sans CJK SC","fontWeight":"bold"},"encoding":{"x":{"field":"tx","type":"temporal"},"y":{"field":"ty","type":"quantitative"},"text":{"field":"label"}}},
{"data":{"name":"pointers"},"mark":{"type":"trail"},"encoding":{"x":{"field":"x","type":"temporal"},"y":{"field":"y","type":"quantitative"},"size":{"field":"w","type":"quantitative","legend":null,"scale":{"domain":[0,1],"range":[2,20]}},"detail":{"field":"id"},"color":{"field":"tone","type":"nominal","legend":null}}},
{"data":{"name":"tags"},"mark":{"type":"rect","cornerRadius":8},"encoding":{"x":{"field":"x1","type":"temporal"},"x2":{"field":"x2"},"y":{"field":"y1","type":"quantitative"},"y2":{"field":"y2"},"color":{"field":"tone","type":"nominal","legend":null}}},
{"data":{"name":"tags"},"mark":{"type":"point","filled":false,"size":90,"fill":"#ffffff","strokeWidth":2.5,"opacity":1},"encoding":{"x":{"field":"ax","type":"temporal"},"y":{"field":"ay","type":"quantitative"},"stroke":{"field":"tone","type":"nominal","legend":null,"scale":{"domain":["red","black","green","blue"],"range":["#f23645","#000000","#388e3c","#22669c"]}}}},
{"data":{"name":"tags"},"mark":{"type":"text","color":"#ffffff","fontSize":29,"fontWeight":"bold"},"encoding":{"x":{"field":"tx","type":"temporal"},"y":{"field":"ty","type":"quantitative"},"text":{"field":"label"}}},
{"data":{"name":"boxes"},"mark":{"type":"rect"},"encoding":{"x":{"field":"x1","type":"temporal"},"x2":{"field":"x2"},"y":{"field":"y1","type":"quantitative"},"y2":{"field":"y2"},"color":{"field":"tone","type":"nominal","legend":null}}},
{"data":{"name":"boxText"},"mark":{"type":"text","color":"#ffffff","fontSize":24,"align":"left"},"encoding":{"x":{"field":"x","type":"temporal"},"y":{"field":"y","type":"quantitative"},"text":{"field":"label"},"opacity":{"field":"o","type":"quantitative","legend":null,"scale":null}}},
{"data":{"name":"pill"},"mark":{"type":"rect","fill":"#ffffff","stroke":"#eceef1","strokeWidth":1.5,"cornerRadius":8},"encoding":{"x":{"field":"x1","type":"temporal"},"x2":{"field":"x2"},"y":{"field":"y1","type":"quantitative"},"y2":{"field":"y2"}}},
{"data":{"values":[{"x":"2026-08-23T11:46Z","y":1050.3,"s":"USDT"}]},"mark":{"type":"text","align":"left","fontSize":24,"color":"#131722"},"encoding":{"x":{"field":"x","type":"temporal"},"y":{"field":"y","type":"quantitative"},"text":{"field":"s"}}},
{"data":{"values":[{"x":"2026-07-06T23:40Z","y":1050.4,"s":"MUUSDT.P · MU / TetherUS PERPETUAL CONTRACT · 4小时 · Binance"}]},"mark":{"type":"text","align":"left","fontSize":22,"color":"#131722"},"encoding":{"x":{"field":"x","type":"temporal"},"y":{"field":"y","type":"quantitative"},"text":{"field":"s"}}},
{"data":{"name":"logoRect"},"mark":{"type":"rect","color":"#131722"},"encoding":{"x":{"field":"x1","type":"temporal"},"x2":{"field":"x2"},"y":{"field":"y1","type":"quantitative"},"y2":{"field":"y2"}}},
{"data":{"name":"logoDot"},"mark":{"type":"point","filled":true,"color":"#131722","size":110,"opacity":1,"shape":"circle"},"encoding":{"x":{"field":"x","type":"temporal"},"y":{"field":"y","type":"quantitative"}}},
{"data":{"name":"logoBar"},"mark":{"type":"rule","color":"#131722","strokeWidth":13},"encoding":{"x":{"field":"x1","type":"temporal"},"x2":{"field":"x2"},"y":{"field":"y1","type":"quantitative"},"y2":{"field":"y2"}}},
{"data":{"values":[{"x":"2026-07-07T23:25Z","y":659,"s":"TradingView"}]},"mark":{"type":"text","align":"left","fontSize":35.5,"fontWeight":"bold","font":"Inter","color":"#131722"},"encoding":{"x":{"field":"x","type":"temporal"},"y":{"field":"y","type":"quantitative"},"text":{"field":"s"}}},
{"data":{"name":"bolt"},"mark":{"type":"point","filled":false,"shape":"circle","size":1296,"stroke":"#9c27b0","strokeWidth":3,"opacity":1},"encoding":{"x":{"field":"x","type":"temporal"},"y":{"field":"y","type":"quantitative"}}},
{"data":{"name":"bolt"},"mark":{"type":"text","text":"⚡","fontSize":27,"color":"#9c27b0","font":"DejaVu Sans"},"encoding":{"x":{"field":"x","type":"temporal"},"y":{"field":"y","type":"quantitative"}}},
{"data":{"name":"boltDot"},"mark":{"type":"point","filled":true,"shape":"circle","size":90,"color":"#f23645","opacity":1},"encoding":{"x":{"field":"x","type":"temporal"},"y":{"field":"y","type":"quantitative"}}},
{"data":{"name":"mark"},"mark":{"type":"point","shape":"diamond","filled":false,"size":600,"stroke":"#d5d5d5","strokeWidth":3,"opacity":1},"encoding":{"x":{"field":"x","type":"temporal"},"y":{"field":"y","type":"quantitative"}}},
{"data":{"values":[{"x":"2026-08-23T19:26Z","y":652.2,"s":"@ 无秋"}]},"mark":{"type":"text","align":"left","fontSize":25,"color":"#d0d0d0"},"encoding":{"x":{"field":"x","type":"temporal"},"y":{"field":"y","type":"quantitative"},"text":{"field":"s"}}},
{"data":{"values":[{"x":"2026-08-25T02:38Z","y":653.9,"s":"666"}]},"mark":{"type":"text","align":"left","fontSize":13,"color":"#d0d0d0"},"encoding":{"x":{"field":"x","type":"temporal"},"y":{"field":"y","type":"quantitative"},"text":{"field":"s"}}}
]}
